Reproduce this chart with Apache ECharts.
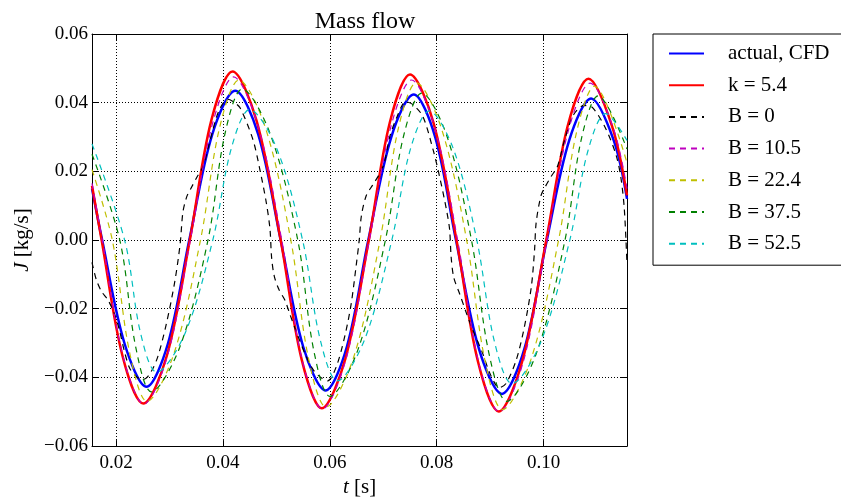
<!DOCTYPE html>
<html><head><meta charset="utf-8">
<script src="https://cdn.jsdelivr.net/npm/echarts@6/dist/echarts.min.js"></script>
<style>html,body{margin:0;padding:0;background:#fff}#c{width:841px;height:503px}</style>
</head><body><div id="c"></div>
<script>
const xTicks = [0.02, 0.04, 0.06, 0.08, 0.10];
const seriesNames = ['actual, CFD', 'k = 5.4', 'B = 0', 'B = 10.5', 'B = 22.4', 'B = 37.5', 'B = 52.5'];

const actualCFD = [[0.0155,0.0150],[0.0174,0],[0.0216,-0.0302],[0.0257,-0.0427],[0.0297,-0.0302],[0.0337,0],[0.0380,0.0308],[0.0423,0.0435],[0.0466,0.0308],[0.0508,0],[0.0550,-0.0310],[0.0592,-0.0438],[0.0632,-0.0310],[0.0672,0],[0.0715,0.0300],[0.0757,0.0424],[0.0797,0.0300],[0.0836,0],[0.0879,-0.0317],[0.0922,-0.0448],[0.0964,-0.0317],[0.1006,0],[0.1048,0.0291],[0.1089,0.0412],[0.1131,0.0291],[0.1156,0.0120]];

const k54 = [[0.0155,0.0158],[0.0173,0],[0.0212,-0.0337],[0.0251,-0.0476],[0.0295,-0.0337],[0.0338,0],[0.0378,0.0347],[0.0418,0.0491],[0.0463,0.0347],[0.0508,0],[0.0547,-0.0346],[0.0585,-0.0490],[0.0629,-0.0346],[0.0673,0],[0.0712,0.0341],[0.0750,0.0482],[0.0794,0.0341],[0.0837,0],[0.0877,-0.0353],[0.0916,-0.0499],[0.0960,-0.0353],[0.1005,0],[0.1045,0.0332],[0.1084,0.0470],[0.1128,0.0332],[0.1156,0.0130]];

const b0 = [[0.0155,-0.0065],[0.0163,-0.0115],[0.0173,-0.0150],[0.0185,-0.0175],[0.0197,-0.0215],[0.0206,-0.0260],[0.0215,-0.0320],[0.0226,-0.0375],[0.0240,-0.0400],[0.0252,-0.0405],[0.0265,-0.0385],[0.0278,-0.0340],[0.0294,-0.0245],[0.0310,-0.0120],[0.0320,-0.0010],[0.0325,0.0080],[0.0332,0.0125],[0.0340,0.0150],[0.0352,0.0185],[0.0363,0.0215],[0.0376,0.0290],[0.0392,0.0375],[0.0409,0.0410],[0.0420,0.0402],[0.0432,0.0385],[0.0456,0.0293],[0.0469,0.0206],[0.0481,0.0110],[0.0488,0.0032],[0.0491,-0.0050],[0.0496,-0.0105],[0.0505,-0.0145],[0.0516,-0.0175],[0.0525,-0.0215],[0.0538,-0.0270],[0.0556,-0.0340],[0.0570,-0.0380],[0.0583,-0.0400],[0.0596,-0.0410],[0.0612,-0.0369],[0.0628,-0.0280],[0.0640,-0.0185],[0.0649,-0.0078],[0.0655,0.0000],[0.0659,0.0070],[0.0668,0.0129],[0.0680,0.0160],[0.0692,0.0190],[0.0702,0.0225],[0.0712,0.0300],[0.0726,0.0360],[0.0742,0.0403],[0.0755,0.0395],[0.0774,0.0360],[0.0793,0.0264],[0.0805,0.0187],[0.0818,0.0090],[0.0824,0.0032],[0.0827,-0.0050],[0.0832,-0.0110],[0.0843,-0.0157],[0.0856,-0.0215],[0.0867,-0.0260],[0.0886,-0.0330],[0.0900,-0.0390],[0.0917,-0.0430],[0.0930,-0.0417],[0.0949,-0.0348],[0.0964,-0.0253],[0.0977,-0.0136],[0.0983,-0.0030],[0.0986,0.0050],[0.0995,0.0129],[0.1003,0.0155],[0.1014,0.0185],[0.1026,0.0215],[0.1039,0.0290],[0.1056,0.0365],[0.1076,0.0392],[0.1092,0.0385],[0.1117,0.0322],[0.1136,0.0245],[0.1145,0.0177],[0.1151,0.0090],[0.1156,-0.0070]];

const b105 = [[0.0155,0.0165],[0.0174,0],[0.0213,-0.0338],[0.0252,-0.0478],[0.0296,-0.0338],[0.0339,0],[0.0380,0.0336],[0.0420,0.0475],[0.0465,0.0336],[0.0510,0],[0.0548,-0.0348],[0.0586,-0.0492],[0.0630,-0.0348],[0.0674,0],[0.0714,0.0329],[0.0753,0.0466],[0.0796,0.0329],[0.0839,0],[0.0878,-0.0354],[0.0917,-0.0500],[0.0962,-0.0354],[0.1006,0],[0.1047,0.0323],[0.1087,0.0457],[0.1131,0.0323],[0.1156,0.0150]];

const b224 = [[0.0155,0.0205],[0.0193,0],[0.0226,-0.0332],[0.0258,-0.0470],[0.0308,-0.0332],[0.0358,0],[0.0394,0.0329],[0.0430,0.0466],[0.0479,0.0329],[0.0527,0],[0.0560,-0.0344],[0.0593,-0.0486],[0.0644,-0.0344],[0.0694,0],[0.0728,0.0324],[0.0762,0.0458],[0.0809,0.0324],[0.0856,0],[0.0890,-0.0349],[0.0923,-0.0494],[0.0976,-0.0349],[0.1028,0],[0.1062,0.0317],[0.1095,0.0448],[0.1156,0.0225]];

const b375 = [[0.0155,0.0250],[0.0207,0],[0.0237,-0.0313],[0.0266,-0.0442],[0.0319,-0.0313],[0.0372,0],[0.0404,0.0311],[0.0436,0.0440],[0.0488,0.0311],[0.0540,0],[0.0570,-0.0322],[0.0600,-0.0455],[0.0652,-0.0322],[0.0704,0],[0.0738,0.0303],[0.0772,0.0428],[0.0819,0.0303],[0.0865,0],[0.0898,-0.0332],[0.0931,-0.0470],[0.0986,-0.0332],[0.1040,0],[0.1071,0.0297],[0.1102,0.0420],[0.1156,0.0265]];

const b525 = [[0.0155,0.0280],[0.0216,0],[0.0246,-0.0272],[0.0276,-0.0385],[0.0329,-0.0272],[0.0381,0],[0.0416,0.0269],[0.0450,0.0380],[0.0500,0.0269],[0.0549,0],[0.0582,-0.0290],[0.0614,-0.0410],[0.0665,-0.0290],[0.0716,0],[0.0751,0.0266],[0.0786,0.0376],[0.0831,0.0266],[0.0875,0],[0.0908,-0.0296],[0.0941,-0.0418],[0.0995,-0.0296],[0.1049,0],[0.1083,0.0260],[0.1116,0.0368],[0.1156,0.0290]];

const FONT = 'Liberation Serif';
const seriesData = [actualCFD, k54, b0, b105, b224, b375, b525];
const dash = [6, 5];
const lineStyles = [
  {color:'#0000ff', width:2.5, type:'solid'},
  {color:'#ff0000', width:2.5, type:'solid'},
  {color:'#000000', width:1.2, type:dash},
  {color:'#bf00bf', width:1.2, type:dash},
  {color:'#bfbf00', width:1.2, type:dash},
  {color:'#008000', width:1.2, type:dash},
  {color:'#00bfbf', width:1.2, type:dash}
];

function yFmt(v) {
  const r = Math.round(v * 100) / 100;
  return (r < 0 ? '\u2212' : '') + Math.abs(r).toFixed(2);
}

const chart = echarts.init(document.getElementById('c'), null, {renderer: 'canvas'});
const axisLine = {show: true, onZero: false, lineStyle: {color: '#000', width: 1}};
const tickStyle = {color: '#000', width: 1};
const labelStyle = {fontFamily: FONT, fontSize: 19, color: '#000'};
const nameStyle = {fontFamily: FONT, fontSize: 21, color: '#000',
  rich: {i: {fontFamily: FONT, fontSize: 21, fontStyle: 'italic', color: '#000'}}};

chart.setOption({
  animation: false,
  backgroundColor: '#fff',
  title: {text: 'Mass flow', left: 360, textAlign: 'center', top: 5,
    textStyle: {fontFamily: FONT, fontSize: 24, fontWeight: 'normal', color: '#000'}},
  grid: {left: 92, right: 214, top: 34, bottom: 55, containLabel: false},
  legend: {
    orient: 'vertical', left: 653, top: 34,
    data: seriesNames,
    itemWidth: 35, itemHeight: 20, itemGap: 10.7,
    padding: [9, 300, 11, 15],
    borderColor: '#000', borderWidth: 1, backgroundColor: '#fff',
    itemStyle: {opacity: 0, borderWidth: 0},
    textStyle: {fontFamily: FONT, fontSize: 21, color: '#000', lineHeight: 20, padding: [0, 0, 0, 19]}
  },
  xAxis: [
    {type: 'value', min: 0.0155, max: 0.1156, position: 'bottom',
     axisLine: axisLine,
     axisTick: {show: true, inside: true, length: 6, customValues: xTicks, lineStyle: tickStyle},
     axisLabel: Object.assign({customValues: xTicks, margin: 7, formatter: v => v.toFixed(2)}, labelStyle),
     splitLine: {show: true, lineStyle: {color: '#000', width: 1, type: [1, 2]}},
     name: '{i|t} [s]', nameLocation: 'middle', nameGap: 29, nameTextStyle: nameStyle},
    {type: 'value', min: 0.0155, max: 0.1156, position: 'top',
     axisLine: axisLine,
     axisTick: {show: true, inside: true, length: 6, customValues: xTicks, lineStyle: tickStyle},
     axisLabel: {show: false}, splitLine: {show: false}}
  ],
  yAxis: [
    {type: 'value', min: -0.06, max: 0.06, interval: 0.02, position: 'left',
     axisLine: axisLine,
     axisTick: {show: true, inside: true, length: 6, lineStyle: tickStyle},
     axisLabel: Object.assign({margin: 4, formatter: yFmt}, labelStyle),
     splitLine: {show: true, lineStyle: {color: '#000', width: 1, type: [1, 2]}},
     name: '{i|J} [kg/s]', nameLocation: 'middle', nameGap: 58, nameTextStyle: nameStyle},
    {type: 'value', min: -0.06, max: 0.06, interval: 0.02, position: 'right',
     axisLine: axisLine,
     axisTick: {show: true, inside: true, length: 6, lineStyle: tickStyle},
     axisLabel: {show: false}, splitLine: {show: false}}
  ],
  series: seriesNames.map((name, i) => ({
    name: name, type: 'line', data: seriesData[i],
    xAxisIndex: 0, yAxisIndex: 0,
    symbol: 'none', showSymbol: false,
    smooth: i === 2 ? 0.3 : 0.33,
    lineStyle: lineStyles[i], itemStyle: {color: lineStyles[i].color},
    emphasis: {disabled: true}
  }))
});
</script>
</body></html>
